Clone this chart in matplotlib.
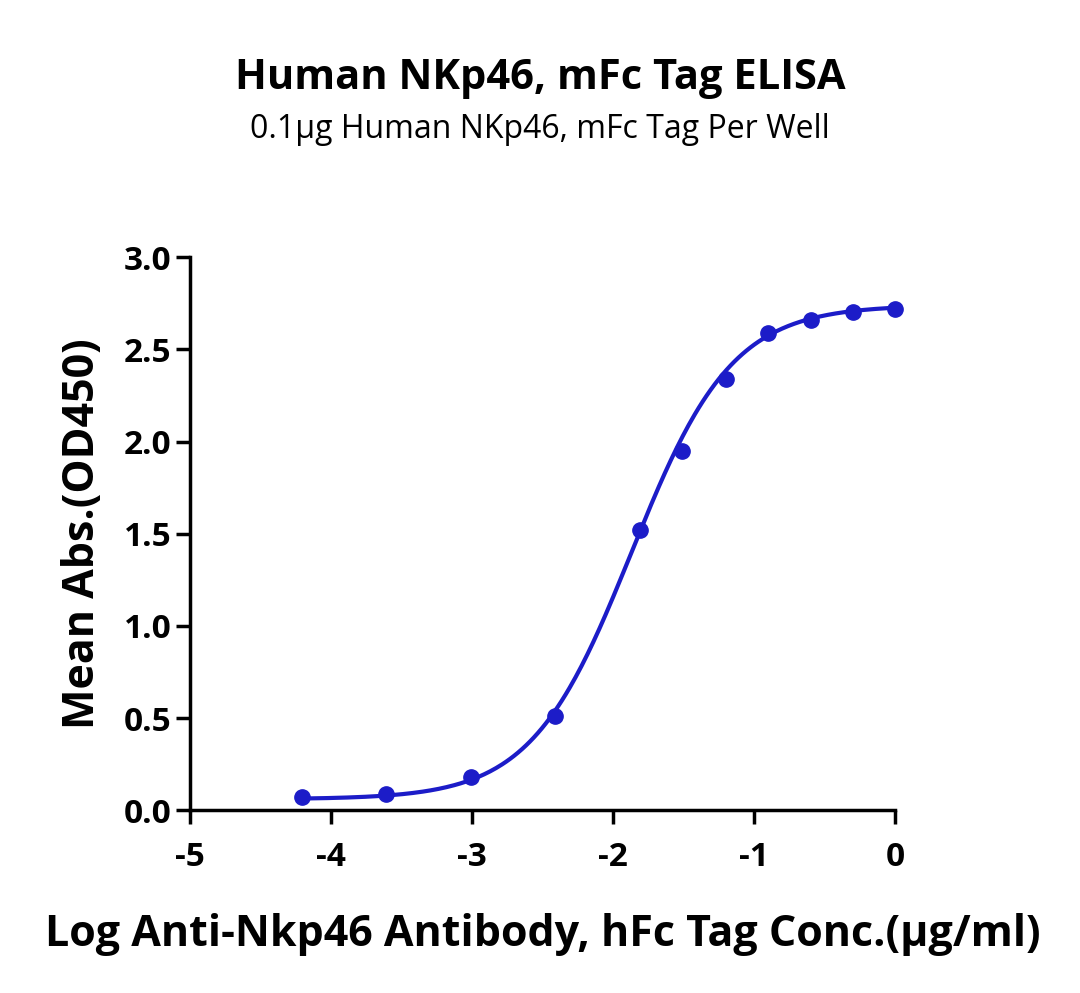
import numpy as np
import matplotlib.pyplot as plt

plt.rcParams['font.family'] = ['Open Sans', 'DejaVu Sans']
plt.rcParams['axes.unicode_minus'] = False

# measured points
log_conc = [-4.21, -3.61, -3.01, -2.41, -1.81, -1.51, -1.20, -0.90, -0.60, -0.30, 0.0]
mean_abs = [0.07, 0.09, 0.18, 0.51, 1.52, 1.95, 2.34, 2.59, 2.66, 2.70, 2.72]

# 4PL fit
BOTTOM, TOP, LOGEC50, HILL = 0.06, 2.74, -1.87, 1.22

BLUE = "#1c1cc8"

fig = plt.figure(figsize=(10.8, 9.93), dpi=100)
ax = fig.add_axes([0.176, 0.184, 0.653, 0.557])

xs = np.linspace(min(log_conc), max(log_conc), 300)
ys = BOTTOM + (TOP - BOTTOM) / (1 + 10 ** ((LOGEC50 - xs) * HILL))
ax.plot(xs, ys, color=BLUE, lw=3, clip_on=False)
ax.plot(log_conc, mean_abs, 'o', color=BLUE, ms=11, clip_on=False)

ax.set_xlim(-5, 0)
ax.set_ylim(0, 3)
ax.set_xticks(range(-5, 1))
ax.set_yticks(np.arange(0, 3.01, 0.5))
ax.set_yticklabels([f"{v:.1f}" for v in np.arange(0, 3.01, 0.5)])
for s in ("top", "right"):
    ax.spines[s].set_visible(False)
for s in ("left", "bottom"):
    ax.spines[s].set_linewidth(2.5)
ax.tick_params(width=2.5, length=10, labelsize=24)
ax.tick_params(axis="x", pad=12)
for lab in ax.get_xticklabels() + ax.get_yticklabels():
    lab.set_fontweight("bold")

ax.set_xlabel("Log Anti-Nkp46 Antibody, hFc Tag Conc.(µg/ml)", fontsize=31,
              fontweight="bold", labelpad=28)
ax.set_ylabel("Mean Abs.(OD450)", fontsize=31, fontweight="bold", labelpad=14)

fig.text(0.5, 0.91, "Human NKp46, mFc Tag ELISA", ha="center", fontsize=30,
         fontweight="bold")
fig.text(0.5, 0.861, "0.1µg Human NKp46, mFc Tag Per Well", ha="center", fontsize=23)

fig.savefig("out.png", dpi=100)
